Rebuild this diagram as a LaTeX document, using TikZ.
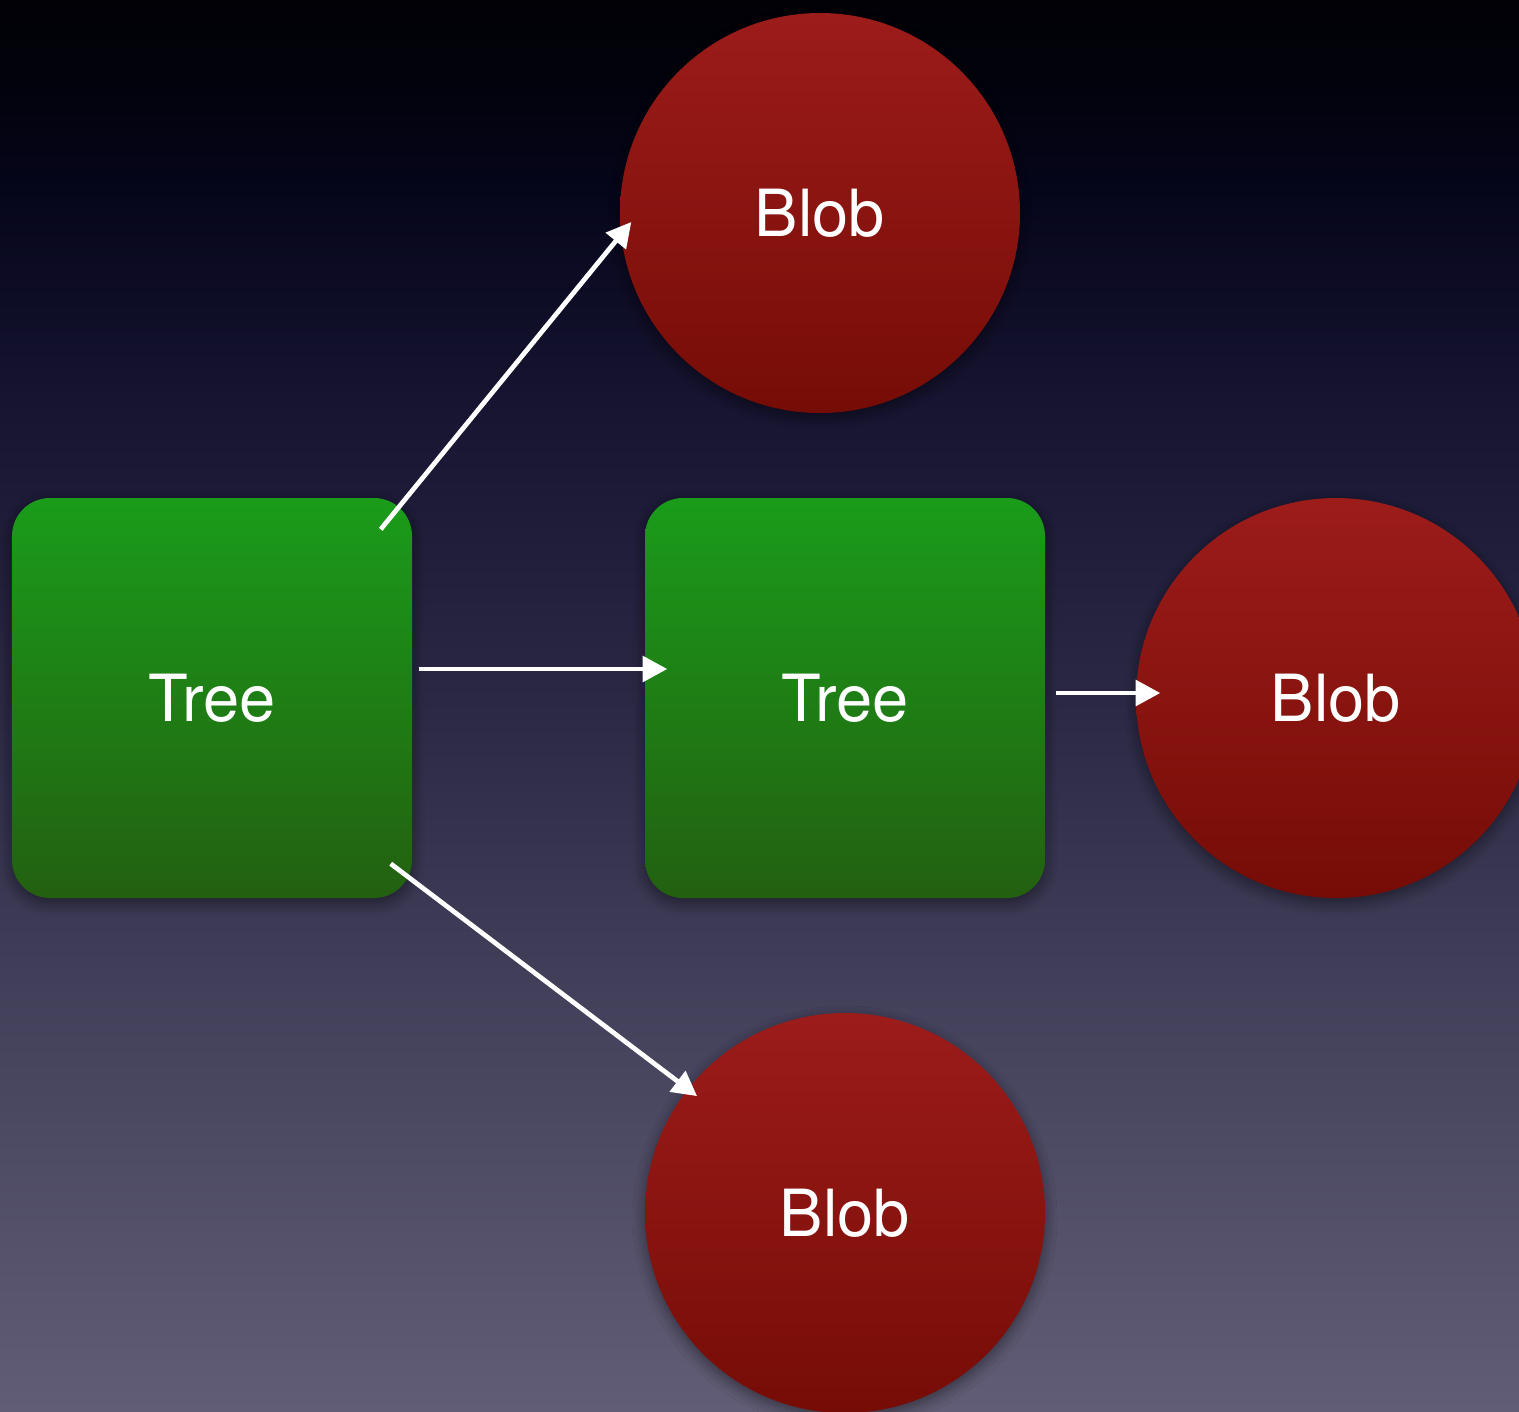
\documentclass[tikz,border=0pt]{standalone}
\usepackage{fontspec}
\setmainfont{TeX Gyre Heros}
\usetikzlibrary{arrows.meta,shadows.blur}
% backdrop colours, from bottom to top
\definecolor{bgA}{RGB}{98,93,118}
\definecolor{bgB}{RGB}{66,64,90}
\definecolor{bgC}{RGB}{42,40,68}
\definecolor{bgD}{RGB}{22,20,48}
\definecolor{bgE}{RGB}{6,6,28}
\definecolor{bgF}{RGB}{2,2,12}
\definecolor{bgG}{RGB}{1,1,6}
\definecolor{treetop}{RGB}{26,156,26}
\definecolor{treebot}{RGB}{35,96,16}
\definecolor{blobtop}{RGB}{156,28,26}
\definecolor{blobbot}{RGB}{118,12,6}
% TikZ fits the middle 50bp of a 100bp shading to the filled path
\pgfdeclareverticalshading{backdrop}{100bp}{%
  color(0bp)=(bgA); color(25bp)=(bgA); color(39.56bp)=(bgB);
  color(50.19bp)=(bgC); color(60.83bp)=(bgD); color(67.91bp)=(bgE);
  color(72.13bp)=(bgF); color(75bp)=(bgG); color(100bp)=(bgG)}
\tikzset{
  labeltext/.style={text=white, font=\fontsize{18.5}{22}\selectfont},
  shapeshadow/.style={blur shadow={shadow xshift=0cm, shadow yshift=-0.05cm,
      shadow blur radius=0.12cm, shadow opacity=45, shadow blur steps=8}},
  treebox/.style={labeltext, shapeshadow, rectangle, rounded corners=0.38cm,
      minimum width=4cm, minimum height=4cm, inner sep=0pt,
      top color=treetop, bottom color=treebot},
  blobdisc/.style={labeltext, shapeshadow, circle, minimum size=4cm, inner sep=0pt,
      top color=blobtop, bottom color=blobbot},
  link/.style={draw=white, line width=1.35pt,
      -{Triangle[length=7pt,width=7.2pt]}}
}
\begin{document}
\begin{tikzpicture}
\useasboundingbox (0,0) rectangle (15.19,-14.11);
\clip (0,0) rectangle (15.19,-14.11);
% backdrop
\shade[shading=backdrop] (0,0) rectangle (15.19,-14.11);

% trees and blobs
\node[treebox] (tree1) at (2.12,-6.98) {Tree};
\node[treebox] (tree2) at (8.45,-6.98) {Tree};
\node[blobdisc] (blob1) at (8.20,-2.13) {Blob};
\node[blobdisc] (blob2) at (13.36,-6.98) {Blob};
\node[blobdisc] (blob3) at (8.45,-12.13) {Blob};

% references
\draw[link] ([shift={(-0.32,-0.32)}]tree1.north east) -- ([shift={(0.12,-0.09)}]blob1.west);
\draw[link] ([shift={(0.06,0.29)}]tree1.east) -- ([shift={(0.23,0.29)}]tree2.west);
\draw[link] ([shift={(0.10,0.05)}]tree2.east) -- ([shift={(0.25,0.05)}]blob2.west);
\draw[link] ([shift={(-0.22,0.35)}]tree1.south east) -- ([shift={(-0.06,-0.25)}]blob3.north west);
\end{tikzpicture}
\end{document}
